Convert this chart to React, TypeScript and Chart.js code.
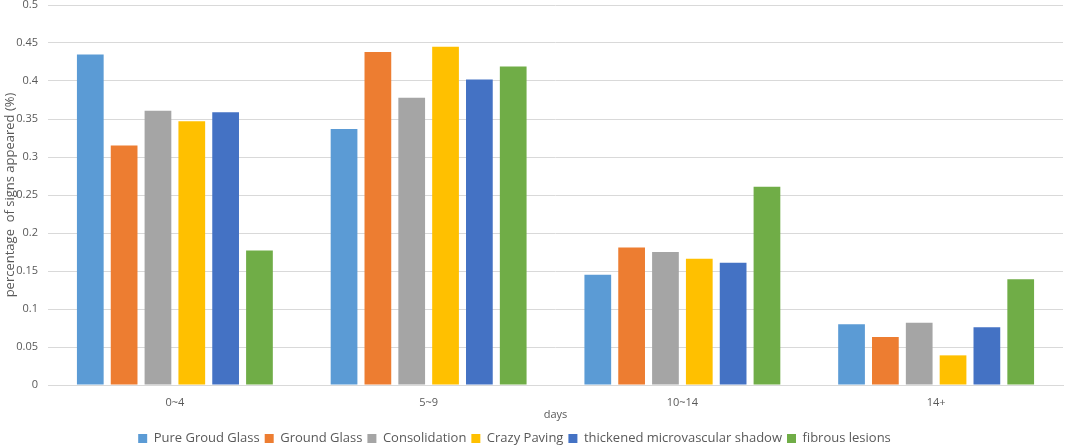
import { useRef, useEffect } from 'react';
import { Chart, registerables } from 'chart.js';

Chart.register(...registerables);

const dayGroups = ['0~4', '5~9', '10~14', '14+'];

const pureGroudGlass = [0.435, 0.337, 0.145, 0.08];
const groundGlass = [0.315, 0.438, 0.181, 0.063];
const consolidation = [0.361, 0.378, 0.175, 0.082];
const crazyPaving = [0.347, 0.445, 0.166, 0.039];
const microvascularShadow = [0.359, 0.402, 0.161, 0.076];
const fibrousLesions = [0.177, 0.419, 0.261, 0.139];

const yTicks = [0, 0.05, 0.1, 0.15, 0.2, 0.25, 0.3, 0.35, 0.4, 0.45, 0.5];

const FONT = "'Open Sans', 'Noto Sans', sans-serif";
const TEXT = '#595959';

// nudge the legend a bit left and down, like the original Excel layout
const legendNudge = {
  id: 'legendNudge',
  afterLayout(chart: Chart) {
    const lg = chart.legend;
    if (!lg) return;
    lg.left -= 17;
    lg.right -= 17;
    lg.top += 2;
    lg.bottom += 2;
  },
};

const App: React.FC = () => {
  const canvasRef = useRef<HTMLCanvasElement | null>(null);
  const chartRef = useRef<Chart | null>(null);

  useEffect(() => {
    if (!canvasRef.current) return;
    if (chartRef.current) chartRef.current.destroy();
    const ctx = canvasRef.current.getContext('2d');
    if (!ctx) return;

    const series = [
      { label: 'Pure Groud Glass', data: pureGroudGlass, color: '#5B9BD5' },
      { label: 'Ground Glass', data: groundGlass, color: '#ED7D31' },
      { label: 'Consolidation', data: consolidation, color: '#A5A5A5' },
      { label: 'Crazy Paving', data: crazyPaving, color: '#FFC000' },
      { label: 'thickened microvascular shadow', data: microvascularShadow, color: '#4472C4' },
      { label: 'fibrous lesions', data: fibrousLesions, color: '#70AD47' },
    ];

    chartRef.current = new Chart(ctx, {
      type: 'bar',
      data: {
        labels: dayGroups,
        datasets: series.map((s) => ({
          label: s.label,
          data: s.data,
          backgroundColor: s.color,
          borderWidth: 0,
          categoryPercentage: 0.8,
          barPercentage: 0.79,
        })),
      },
      plugins: [legendNudge],
      options: {
        animation: false,
        responsive: false,
        layout: { padding: { top: 5, right: 9, left: 0, bottom: -8 } },
        plugins: {
          tooltip: { enabled: false },
          legend: {
            position: 'bottom',
            labels: {
              boxWidth: 9,
              boxHeight: 9,
              padding: 5,
              color: TEXT,
              font: { family: FONT, size: 13 },
            },
          },
        },
        scales: {
          x: {
            grid: { display: false },
            border: { color: '#d9d9d9', width: 1 },
            ticks: { color: TEXT, font: { family: FONT, size: 11 }, padding: 3 },
            title: {
              display: true,
              text: 'days',
              color: TEXT,
              font: { family: FONT, size: 11 },
              padding: { top: 0, bottom: 4 },
            },
            afterFit: (scale) => {
              scale.height = 40;
              scale.paddingLeft = 0;
              scale.paddingRight = 0;
            },
          },
          y: {
            min: 0,
            max: 0.5,
            afterBuildTicks: (scale) => {
              scale.ticks = yTicks.map((v) => ({ value: v }));
            },
            afterFit: (scale) => {
              scale.width = 48;
              scale.paddingTop = 0;
              scale.paddingBottom = 0;
            },
            grid: { color: '#d9d9d9', drawTicks: false },
            border: { display: false },
            ticks: {
              color: TEXT,
              font: { family: FONT, size: 11 },
              padding: 10,
              callback: (v) => String(v),
            },
            title: {
              display: true,
              text: 'percentage  of signs appeared (%)',
              color: TEXT,
              font: { family: FONT, size: 13 },
              padding: { top: 2, bottom: 0 },
            },
          },
        },
      },
    });

    return () => {
      if (chartRef.current) chartRef.current.destroy();
    };
  }, []);

  return (
    <div style={{ position: 'absolute', left: 0, top: 0, width: 1072, height: 445, background: '#fff' }}>
      <canvas ref={canvasRef} width={1072} height={445}></canvas>
    </div>
  );
};

export default App;
